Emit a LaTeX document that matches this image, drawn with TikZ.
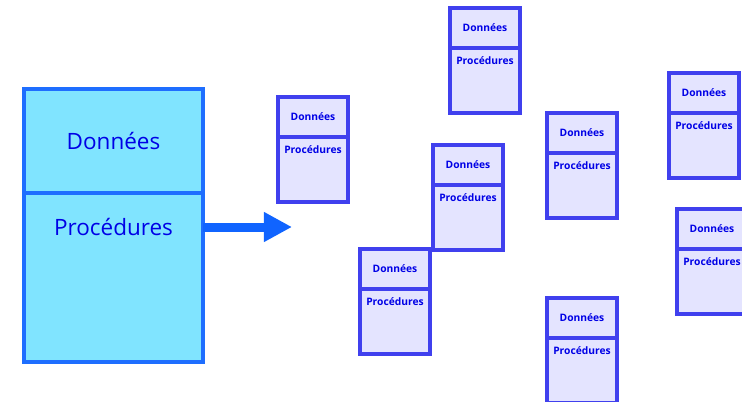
\documentclass[tikz,border=0pt]{standalone}
\usepackage{fontspec}
\setsansfont{Open Sans}
\usetikzlibrary{arrows.meta, positioning}

\definecolor{classfill}{RGB}{128,228,255}
\definecolor{classline}{RGB}{30,110,255}
\definecolor{objfill}{RGB}{228,228,255}
\definecolor{objline}{RGB}{64,64,238}
\definecolor{textblue}{RGB}{0,0,230}
\definecolor{arrowblue}{RGB}{16,100,255}

\begin{document}
\begin{tikzpicture}[
    x=0.025cm, y=-0.025cm,
    % --- STYLES ---
    classtop/.style={draw=classline, fill=classfill, line width=2.4pt, minimum width=4.475cm, minimum height=2.6cm, inner sep=0pt, outer sep=0pt, text=textblue, font=\sffamily\fontsize{16}{18}\selectfont},
    classbot/.style={draw=classline, fill=classfill, line width=2.4pt, minimum width=4.475cm, minimum height=4.225cm, inner sep=0pt, outer sep=0pt},
    classtxt/.style={text=textblue, inner sep=0pt, font=\sffamily\fontsize{16}{18}\selectfont},
    objtop/.style={draw=objline, fill=objfill, line width=2.4pt, minimum width=1.75cm, minimum height=1.0cm, inner sep=0pt, outer sep=0pt, text=textblue, font=\sffamily\bfseries\fontsize{7.3}{8}\selectfont},
    objbot/.style={draw=objline, fill=objfill, line width=2.4pt, minimum width=1.75cm, minimum height=1.625cm, inner sep=0pt, outer sep=0pt},
    objtxt/.style={text=textblue, inner sep=0pt, font=\sffamily\bfseries\fontsize{7.3}{8}\selectfont},
    bigarrow/.style={-{Triangle[length=0.7cm, width=0.7cm]}, arrowblue, line width=0.225cm}
]
\useasboundingbox (0,0) rectangle (742,401);
\clip (0,0) rectangle (742,401);

% --- CLASS (left) ---
\node[classtop] (clstop) at (113.5,141) {Données};
\node[classbot, below=0pt of clstop] (clsbot) {};
\node[classtxt, below=18pt of clstop.south] (clsproc) {Procédures};

% --- OBJECTS (scattered) ---
\foreach \i/\x/\y in {1/278/97, 2/450/8, 3/433/145, 4/360/249, 5/547/113, 6/669/73, 7/677/209, 8/547/298} {
    \node[objtop] (obj\i top) at (\x+35,\y+20) {Données};
    \node[objbot, below=0pt of obj\i top] (obj\i bot) {};
    \node[objtxt, below=6pt of obj\i top.south] (obj\i proc) {Procédures};
}

% --- ARROW ---
\coordinate (tip) at (292,227);
\draw[bigarrow] (clsbot.east |- tip) -- (tip);

\end{tikzpicture}
\end{document}
